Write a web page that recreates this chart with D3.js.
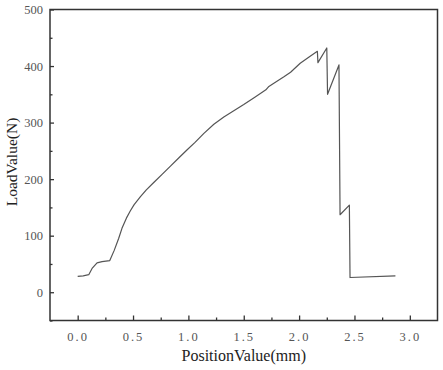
<!DOCTYPE html>
<html>
<head>
<meta charset="utf-8">
<script src="https://cdn.jsdelivr.net/npm/d3@7"></script>
<style>
  body { margin: 0; background: #fff; }
  svg { display: block; }
  .tick text { font-family: "Liberation Serif", "DejaVu Serif", serif; fill: #555; }
</style>
</head>
<body>
<script>
// 位移 (mm)
const positions = [0, 0.05, 0.1, 0.13, 0.175, 0.22, 0.29, 0.33, 0.37, 0.40, 0.44, 0.476, 0.51,
  0.567, 0.62, 0.687, 0.76, 0.838, 0.91, 0.989, 1.06, 1.14, 1.23, 1.32, 1.41, 1.50, 1.60,
  1.70, 1.727, 1.758, 1.863, 1.923, 2.01, 2.09, 2.165, 2.17, 2.25, 2.257, 2.36, 2.37,
  2.454, 2.46, 2.87];
// 载荷 (N)
const loads = [28, 29, 31, 42, 52, 54, 56, 74, 95, 113, 131, 144, 155,
  169, 181, 194, 208, 223, 237, 252, 265, 281, 297, 310, 321, 332, 345,
  358, 364, 368, 381, 389, 405, 416, 426, 406, 432, 350, 402, 137,
  154, 26, 29];

const xTicks = [0, 0.5, 1.0, 1.5, 2.0, 2.5, 3.0];
const yTicks = [0, 100, 200, 300, 400, 500];

const width = 443, height = 370;
const margin = { top: 9.5, right: 5.5, bottom: 49.5, left: 50 };

const svg = d3.select('body').append('svg')
  .attr('width', width)
  .attr('height', height);

const x = d3.scaleLinear().domain([-0.25, 3.25]).range([margin.left, width - margin.right]);
const y = d3.scaleLinear().domain([-50, 500]).range([height - margin.bottom, margin.top]);

// 坐标轴，刻度朝内
const xAxis = svg.append('g')
  .attr('transform', `translate(0,${height - margin.bottom})`)
  .call(d3.axisBottom(x).tickValues(xTicks).tickSize(-5).tickPadding(12)
    .tickFormat(d3.format('.1f')));
xAxis.selectAll('.tick text').attr('font-size', 12.5).attr('letter-spacing', 2);

svg.append('g')
  .attr('transform', `translate(0,${height - margin.bottom})`)
  .call(d3.axisBottom(x).tickValues(d3.range(0.25, 3.2, 0.5)).tickSize(-3).tickFormat(''));

const yAxis = svg.append('g')
  .attr('transform', `translate(${margin.left},0)`)
  .call(d3.axisLeft(y).tickValues(yTicks).tickSize(-4).tickPadding(7));
yAxis.selectAll('.tick text').attr('font-size', 12.5);

svg.append('g')
  .attr('transform', `translate(${margin.left},0)`)
  .call(d3.axisLeft(y).tickValues(d3.range(-50, 500, 100)).tickSize(-2.5).tickFormat(''));

svg.selectAll('.domain').remove();
svg.selectAll('.tick line').attr('stroke', '#333').attr('stroke-width', 1.3);

// 边框
svg.append('rect')
  .attr('x', margin.left)
  .attr('y', margin.top)
  .attr('width', width - margin.left - margin.right)
  .attr('height', height - margin.top - margin.bottom)
  .attr('fill', 'none')
  .attr('stroke', '#333')
  .attr('stroke-width', 1.5);

// 曲线
const line = d3.line()
  .x((d, i) => x(positions[i]))
  .y(d => y(d));

svg.append('path')
  .datum(loads)
  .attr('fill', 'none')
  .attr('stroke', '#555')
  .attr('stroke-width', 1.2)
  .attr('stroke-linejoin', 'round')
  .attr('d', line);

// 轴标题
svg.append('text')
  .attr('x', (margin.left + width - margin.right) / 2)
  .attr('y', 361)
  .attr('text-anchor', 'middle')
  .attr('font-family', '"Liberation Serif", serif')
  .attr('font-size', 16)
  .attr('fill', '#222')
  .text('PositionValue(mm)');

svg.append('text')
  .attr('transform', `translate(17,162) rotate(-90)`)
  .attr('text-anchor', 'middle')
  .attr('font-family', '"Liberation Serif", serif')
  .attr('font-size', 15.5)
  .attr('fill', '#222')
  .text('LoadValue(N)');
</script>
</body>
</html>
